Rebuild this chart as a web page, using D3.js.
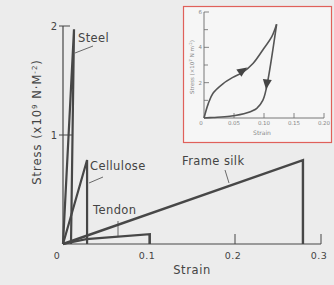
<!DOCTYPE html>
<html><head><meta charset="utf-8">
<script src="https://cdn.jsdelivr.net/npm/d3@7"></script>
<style>
html,body{margin:0;padding:0;background:#ececec;}
svg{display:block;}
text{font-family:"DejaVu Sans",sans-serif;fill:#444;}
</style></head>
<body>
<svg id="c" width="334" height="285"></svg>
<script>
// ---- main chart data (strain, stress x10^9 N m^-2)
const steel = [[0,0],[0.0128,1.97],[0.0093,0]];
const cellulose = [[0,0],[0.028,0.77],[0.028,0]];
const tendon = [[0,0],[0.027,0.045],[0.101,0.09],[0.101,0]];
const frameSilk = [[0,0],[0.279,0.77],[0.279,0]];
const xTicks = [0,0.1,0.2,0.3];
const xTickLabels = ["0","0.1","0.2","0.3"];
const yTicks = [1,2];
// ---- inset data (strain, stress x10^7 N m^-2)
const loadCurve = [[0,0],[0.007,0.8],[0.015,1.4],[0.032,1.95],[0.048,2.3],[0.065,2.6],[0.082,3.1],[0.098,3.85],[0.113,4.6],[0.121,5.3]];
const unloadCurve = [[0.121,5.3],[0.104,1.7],[0.098,1.0],[0.088,0.55],[0.072,0.3],[0.043,0.1],[0.015,0.03],[0,0]];
const insetXTicks = [0,0.05,0.10,0.15,0.20];
const insetXLabels = ["0","0.05","0.10","0.15","0.20"];
const insetYMajor = [2,4,6];
const insetYMinor = [1,3,5];

const svg = d3.select("#c");
const ink = "#474747";

// ---------- main chart
const x = d3.scaleLinear().domain([0,0.3]).range([63,321]);
const y = d3.scaleLinear().domain([0,2]).range([244,26]);
const g = svg.append("g");

// axes
g.append("line").attr("x1",x(0)).attr("x2",x(0.3)).attr("y1",y(0)).attr("y2",y(0)).attr("stroke",ink).attr("stroke-width",1.2);
g.append("line").attr("x1",x(0)).attr("x2",x(0)).attr("y1",y(0)).attr("y2",y(2)).attr("stroke",ink).attr("stroke-width",1.2);
yTicks.forEach(v=>{
  g.append("line").attr("x1",x(0)-4).attr("x2",x(0)+(v===2?7:9)).attr("y1",y(v)).attr("y2",y(v)).attr("stroke",ink).attr("stroke-width",1);
  g.append("text").attr("x",x(0)-6).attr("y",y(v)+4).attr("text-anchor","end").attr("font-size",10).text(v);
});
xTicks.forEach((v,i)=>{
  if(v>0) g.append("line").attr("x1",x(v)).attr("x2",x(v)).attr("y1",y(0)).attr("y2",y(0)-10).attr("stroke",ink).attr("stroke-width",1);
  g.append("text").attr("x",i===0?x(v)-6:x(v)-2).attr("y",259).attr("text-anchor","middle").attr("font-size",9.5).attr("letter-spacing",0.5).text(xTickLabels[i]);
});
g.append("text").attr("x",192).attr("y",274).attr("text-anchor","middle").attr("font-size",11.5).attr("letter-spacing",0.6).text("Strain");
const yl = g.append("text").attr("transform","translate(41,122) rotate(-90)").attr("text-anchor","middle").attr("font-size",11.5).attr("letter-spacing",1);
yl.append("tspan").text("Stress (x10");
yl.append("tspan").attr("font-size",7).attr("dy",-4).text("9");
yl.append("tspan").attr("dy",4).text(" N·M");
yl.append("tspan").attr("font-size",7).attr("dy",-4).text("-2");
yl.append("tspan").attr("dy",4).text(")");

const line = d3.line().x(d=>x(d[0])).y(d=>y(d[1]));
[[frameSilk,2.4],[tendon,2.2],[cellulose,2.2],[steel,2.2]].forEach(([s,w])=>{
  g.append("path").attr("d",line(s)).attr("fill","none").attr("stroke",ink).attr("stroke-width",w).attr("stroke-linejoin","miter");
});

// labels & leaders
function label(t,tx,ty,l){
  g.append("text").attr("x",tx).attr("y",ty).attr("font-size",11.5).attr("letter-spacing",0.4).text(t);
  g.append("line").attr("x1",l[0]).attr("y1",l[1]).attr("x2",l[2]).attr("y2",l[3]).attr("stroke",ink).attr("stroke-width",0.8);
}
label("Steel",78,42,[75,53,93,46]);
label("Cellulose",90,170,[89,183,103,177]);
label("Tendon",93,214,[118,221,118,237]);
label("Frame silk",182,165,[225,170,229,183]);

// ---------- inset
const ix = d3.scaleLinear().domain([0,0.2]).range([204,324]);
const iy = d3.scaleLinear().domain([0,6]).range([118,12]);
const ig = svg.append("g");
ig.append("rect").attr("x",183.5).attr("y",6.5).attr("width",148).attr("height",136).attr("fill","#f6f6f6").attr("stroke","#e0605a").attr("stroke-width",1.2);
const ic = "#6a6a6a";
ig.append("line").attr("x1",ix(0)).attr("x2",ix(0.2)).attr("y1",iy(0)).attr("y2",iy(0)).attr("stroke",ic).attr("stroke-width",0.9);
ig.append("line").attr("x1",ix(0)).attr("x2",ix(0)).attr("y1",iy(0)).attr("y2",iy(6)).attr("stroke",ic).attr("stroke-width",0.9);
insetXTicks.forEach((v,i)=>{
  if(v>0) ig.append("line").attr("x1",ix(v)).attr("x2",ix(v)).attr("y1",iy(0)).attr("y2",iy(0)-5).attr("stroke",ic).attr("stroke-width",0.8);
  ig.append("text").attr("x",i===0?ix(v)-3:ix(v)).attr("y",125).attr("text-anchor","middle").attr("font-size",5.5).style("fill","#888").text(insetXLabels[i]);
});
ig.append("text").attr("x",262).attr("y",135).attr("text-anchor","middle").attr("font-size",6).style("fill","#888").text("Strain");
insetYMajor.forEach(v=>{
  ig.append("line").attr("x1",ix(0)).attr("x2",ix(0)+5).attr("y1",iy(v)).attr("y2",iy(v)).attr("stroke",ic).attr("stroke-width",0.8);
  ig.append("text").attr("x",ix(0)-2).attr("y",iy(v)+2).attr("text-anchor","end").attr("font-size",5.5).style("fill","#888").text(v);
});
insetYMinor.forEach(v=>{
  ig.append("line").attr("x1",ix(0)).attr("x2",ix(0)+4).attr("y1",iy(v)).attr("y2",iy(v)).attr("stroke",ic).attr("stroke-width",0.8);
});
const iyl = ig.append("text").attr("transform","translate(194,67) rotate(-90)").attr("text-anchor","middle").attr("font-size",5.5).style("fill","#888");
iyl.append("tspan").text("Stress (×10");
iyl.append("tspan").attr("font-size",4).attr("dy",-2).text("7");
iyl.append("tspan").attr("dy",2).text(" N m");
iyl.append("tspan").attr("font-size",4).attr("dy",-2).text("-2");
iyl.append("tspan").attr("dy",2).text(")");

const iline = d3.line().x(d=>ix(d[0])).y(d=>iy(d[1])).curve(d3.curveCatmullRom);
ig.append("path").attr("d",iline(loadCurve)).attr("fill","none").attr("stroke","#555").attr("stroke-width",1.6);
ig.append("path").attr("d",iline(unloadCurve)).attr("fill","none").attr("stroke","#555").attr("stroke-width",1.6);

// arrows
function arrow(p,q){
  const [x1,y1]=[ix(p[0]),iy(p[1])],[x2,y2]=[ix(q[0]),iy(q[1])];
  const a=Math.atan2(y2-y1,x2-x1)*180/Math.PI;
  ig.append("path").attr("d","M5,0 L-5,-4.5 L-5,4.5 Z").attr("fill","#444")
    .attr("transform",`translate(${(x1+x2)/2},${(y1+y2)/2}) rotate(${a})`);
}
arrow(loadCurve[4],loadCurve[6]);
arrow([0.106,2.3],[0.103,1.5]);
</script>
</body></html>
